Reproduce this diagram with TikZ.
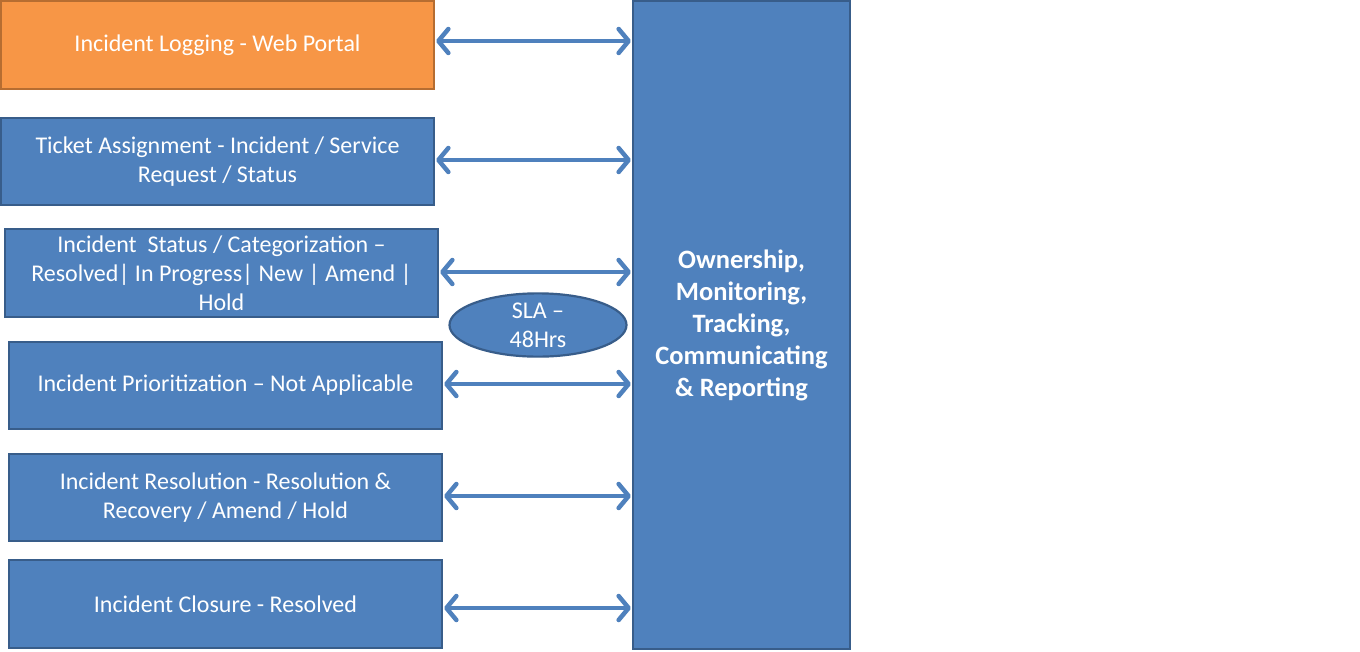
\documentclass[tikz,border=0pt]{standalone}
\usepackage{fontspec}
\setmainfont{Carlito}
\usetikzlibrary{arrows.meta,shapes.geometric}
\definecolor{bfill}{HTML}{4F81BD}
\definecolor{bdraw}{HTML}{385D8A}
\definecolor{ofill}{HTML}{F79646}
\definecolor{odraw}{HTML}{B66D31}
\begin{document}
\begin{tikzpicture}[x=1pt,y=-1pt,
  box/.style={draw=bdraw,fill=bfill,line width=2.2pt,text=white,font=\fontsize{24}{29}\selectfont,align=center,inner sep=0pt},
  obox/.style={box,draw=odraw,fill=ofill},
  link/.style={draw=bfill,line width=4.5pt,{Straight Barb[length=10pt,width=24pt,round]}-{Straight Barb[length=10pt,width=24pt,round]},shorten <=1pt,shorten >=1pt}]
\useasboundingbox[fill=white] (0,0) rectangle (1360,651);
\node[obox,minimum width=433pt,minimum height=88pt] (a) at (217.5,45) {Incident Logging - Web Portal};
\node[box,minimum width=433pt,minimum height=87pt] (b) at (217.5,161.5) {Ticket Assignment - Incident / Service\\Request / Status};
\node[box,minimum width=433pt,minimum height=88pt] (c) at (221.5,273) {Incident\ \ Status / Categorization –\\Resolved| In Progress|\ New\ | Amend\ |\\Hold};
\node[box,minimum width=433pt,minimum height=87pt] (d) at (225.5,385.5) {Incident Prioritization – Not Applicable};
\node[box,minimum width=433pt,minimum height=87pt] (e) at (225.5,497.5) {Incident Resolution - Resolution \&\\Recovery / Amend / Hold};
\node[box,minimum width=433pt,minimum height=88pt] (f) at (225.5,604) {Incident Closure - Resolved};
\node[box,minimum width=217pt,minimum height=648pt,font=\fontsize{26.5}{32}\selectfont\bfseries] (g) at (741.5,325) {Ownership,\\Monitoring,\\Tracking,\\Communicating\\\& Reporting};
\node[box,ellipse,minimum width=177pt,minimum height=56pt] (s) at (538,325) {SLA –\\48Hrs};
\foreach \n/\y in {a/41,b/160,c/272,d/384,e/496,f/608}{
  \coordinate (l\n) at (\n.east |- 0,\y);
  \coordinate (r\n) at (g.west |- 0,\y);
  \draw[link] (l\n) -- (r\n);
}
\end{tikzpicture}
\end{document}
